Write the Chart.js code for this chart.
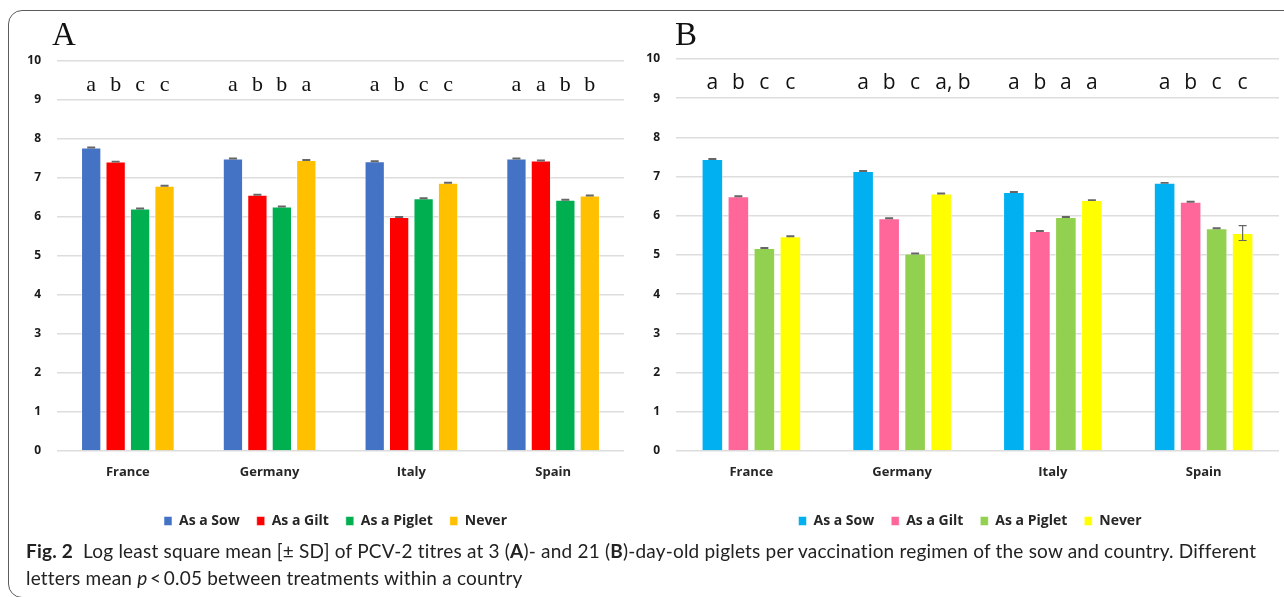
<!DOCTYPE html>
<html>
<head>
<meta charset="utf-8">
<title>PCV-2 titres</title>
<script src="https://cdn.jsdelivr.net/npm/chart.js@4.4.0/dist/chart.umd.min.js"></script>
<style>
  body { margin: 0; background: #fff; width: 1284px; height: 597px; overflow: hidden; position: relative; }
  .frame { position: absolute; left: 8px; top: 10px; width: 1300px; height: 588px; border: 1.5px solid #5c5c5c; border-radius: 14px; box-sizing: border-box; }
  .wrap { position: absolute; top: 0; height: 538px; }
  #wrapA { left: 0; width: 640px; }
  #wrapB { left: 640px; width: 644px; }
  .panel { position: absolute; top: 18px; font-family: "Liberation Serif", "DejaVu Serif", serif; font-size: 33px; color: #111; line-height: 1; }
  .caption { position: absolute; left: 26px; top: 537px; font-family: Lato, "Open Sans", sans-serif; font-size: 19px; letter-spacing: 0.2px; line-height: 27px; color: #222; white-space: nowrap; }
  .caption b { font-weight: 700; }
</style>
</head>
<body>
<div class="frame"></div>
<div class="wrap" id="wrapA"><canvas id="chartA"></canvas></div>
<div class="wrap" id="wrapB"><canvas id="chartB"></canvas></div>
<div class="panel" style="left:52px">A</div>
<div class="panel" style="left:675px">B</div>
<div class="caption">
  <b>Fig. 2</b>&nbsp; Log least square mean [± SD] of PCV-2 titres at 3 (<b>A</b>)- and 21 (<b>B</b>)-day-old piglets per vaccination regimen of the sow and country. Different<br>
  letters mean <i>p</i>&thinsp;&lt;&thinsp;0.05 between treatments within a country
</div>

<script>
// Data
const countries = ['France', 'Germany', 'Italy', 'Spain'];
const regimens = ['As a Sow', 'As a Gilt', 'As a Piglet', 'Never'];
const yTicks = [0, 1, 2, 3, 4, 5, 6, 7, 8, 9, 10];

// Panel A: 3-day-old piglets (one array per regimen, in country order)
const sowA = [7.78, 7.50, 7.43, 7.50];
const giltA = [7.42, 6.57, 6.00, 7.45];
const pigletA = [6.22, 6.27, 6.48, 6.44];
const neverA = [6.80, 7.46, 6.88, 6.55];
const sdA = [
  [0.01, 0.01, 0.01, 0.01],
  [0.01, 0.01, 0.01, 0.01],
  [0.01, 0.01, 0.01, 0.01],
  [0.01, 0.01, 0.01, 0.01]
];
// significance letters per country (Sow, Gilt, Piglet, Never)
const lettersA = [
  ['a', 'b', 'c', 'c'],
  ['a', 'b', 'b', 'a'],
  ['a', 'b', 'c', 'c'],
  ['a', 'a', 'b', 'b']
];

// Panel B: 21-day-old piglets
const sowB = [7.45, 7.14, 6.61, 6.84];
const giltB = [6.50, 5.94, 5.61, 6.36];
const pigletB = [5.18, 5.04, 5.97, 5.68];
const neverB = [5.48, 6.57, 6.40, 5.56];
const sdB = [
  [0.01, 0.01, 0.01, 0.01],
  [0.01, 0.01, 0.01, 0.01],
  [0.01, 0.01, 0.01, 0.01],
  [0.01, 0.01, 0.01, 0.19]
];
const lettersB = [
  ['a', 'b', 'c', 'c'],
  ['a', 'b', 'c', 'a, b'],
  ['a', 'b', 'a', 'a'],
  ['a', 'b', 'c', 'c']
];

const colorsA = ['#4472C4', '#FF0000', '#00B050', '#FFC000'];
const colorsB = ['#00B0F0', '#FF6699', '#92D050', '#FFFF00'];

const LETTER_LEVEL = 9.24;

// Draws the ± SD whiskers and the letters above each group,
// and moves the legend so it sits where the original one does
const extrasPlugin = {
  id: 'extras',
  afterLayout(chart, args, opts) {
    const lg = chart.legend;
    if (!lg) return;
    const dx = opts.legendCenter - (lg.left + lg.right) / 2;
    lg.left += dx;
    lg.right += dx;
  },
  afterDatasetsDraw(chart, args, opts) {
    const ctx = chart.ctx;
    const y = chart.scales.y;
    ctx.save();
    chart.data.datasets.forEach((ds, i) => {
      const meta = chart.getDatasetMeta(i);
      meta.data.forEach((bar, j) => {
        const v = ds.data[j];
        const sd = opts.sd[i][j];
        const top = y.getPixelForValue(v + sd);
        const bot = y.getPixelForValue(v - sd);
        ctx.strokeStyle = '#666';
        ctx.lineWidth = 1.2;
        ctx.beginPath();
        ctx.moveTo(bar.x, top); ctx.lineTo(bar.x, bot);
        ctx.moveTo(bar.x - 4, top); ctx.lineTo(bar.x + 4, top);
        ctx.moveTo(bar.x - 4, bot); ctx.lineTo(bar.x + 4, bot);
        ctx.stroke();

        // letter(s) above the bar; longer labels start where a single letter would
        const txt = opts.letters[j][i];
        ctx.fillStyle = '#111';
        ctx.font = opts.letterFont;
        ctx.textBaseline = 'alphabetic';
        const ly = y.getPixelForValue(LETTER_LEVEL);
        if (txt.length > 1) {
          ctx.textAlign = 'left';
          ctx.fillText(txt, bar.x - ctx.measureText(txt[0]).width / 2, ly);
        } else {
          ctx.textAlign = 'center';
          ctx.fillText(txt, bar.x, ly);
        }
      });
    });
    ctx.restore();
  }
};

function buildChart(canvasId, series, colors, sd, letters, letterFont, pad, yWidth, legendCenter) {
  const datasets = series.map((data, i) => ({
    label: regimens[i],
    data: data,
    backgroundColor: colors[i],
    borderColor: 'rgba(255,255,255,0.5)',
    borderWidth: 1,
    barPercentage: 0.83,
    categoryPercentage: 0.69
  }));

  return new Chart(document.getElementById(canvasId), {
    type: 'bar',
    data: { labels: countries, datasets: datasets },
    plugins: [extrasPlugin],
    options: {
      responsive: true,
      maintainAspectRatio: false,
      animation: false,
      layout: { padding: pad },
      plugins: {
        tooltip: { enabled: false },
        extras: { sd: sd, letters: letters, letterFont: letterFont, legendCenter: legendCenter },
        legend: {
          position: 'bottom',
          labels: {
            boxWidth: 8,
            boxHeight: 9,
            padding: 17,
            color: '#262626',
            font: { family: 'Open Sans', size: 14, weight: 'bold' }
          }
        }
      },
      scales: {
        x: {
          grid: { display: false },
          border: { display: false },
          afterFit: s => { s.height = 46; },
          ticks: {
            padding: 5,
            color: '#262626',
            font: { family: 'Open Sans', size: 13, weight: 'bold' }
          }
        },
        y: {
          min: 0,
          max: 10,
          afterFit: s => { s.width = yWidth; },
          afterBuildTicks: s => { s.ticks = yTicks.map(v => ({ value: v })); },
          grid: { color: '#dddddd', lineWidth: 1.5, drawTicks: false },
          border: { display: false },
          ticks: {
            padding: 16,
            color: '#1a1a1a',
            font: { family: 'Open Sans', size: 12, weight: 'bold' }
          }
        }
      }
    }
  });
}

buildChart('chartA', [sowA, giltA, pigletA, neverA], colorsA, sdA, lettersA,
  '22px "Liberation Serif", serif',
  { left: 0, right: 16, top: 61, bottom: 0 }, 57, 335.5);

buildChart('chartB', [sowB, giltB, pigletB, neverB], colorsB, sdB, lettersB,
  '21px "Open Sans", sans-serif',
  { left: 0, right: 5, top: 59, bottom: 0 }, 36, 330);
</script>
</body>
</html>
